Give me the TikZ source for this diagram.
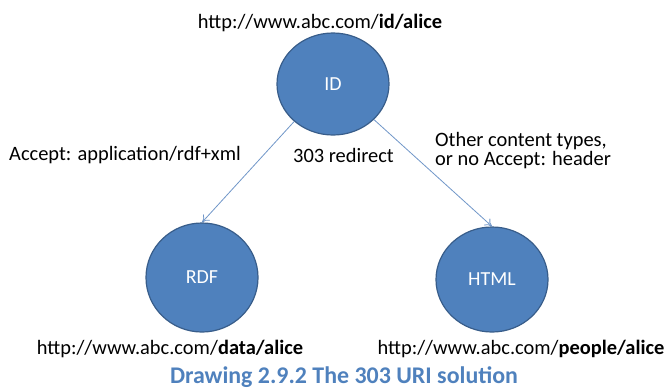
\documentclass[tikz,border=0pt]{standalone}
\usepackage{fontspec}
\setmainfont{Carlito}
\usetikzlibrary{arrows.meta,shapes.geometric}
\definecolor{nodefill}{HTML}{4F81BD}
\definecolor{nodeline}{HTML}{385D8A}
\definecolor{arrowcol}{HTML}{7096C8}
\definecolor{captioncol}{HTML}{4F81BD}
\begin{document}
\begin{tikzpicture}[x=1bp,y=-1bp,
  resource/.style={ellipse,draw=nodeline,line width=1.2bp,fill=nodefill,
    text=white,minimum width=112bp,minimum height=102bp,inner sep=0pt,
    font=\fontsize{20}{24}\selectfont},
  label/.style={inner sep=0pt,font=\fontsize{20.5}{19}\selectfont,text=black},
  link/.style={draw=arrowcol,line width=0.8bp,-{To[length=7bp,width=9bp]}}]
\useasboundingbox (0,0) rectangle (668,390);

% the three resources
\node[resource] (id) at (333,84) {ID};
\node[resource,minimum height=109bp] (rdf) at (202,277.5) {RDF};
\node[resource,minimum height=105bp] (html) at (492,279.5) {HTML};

% their URIs
\node[label] (uid) at (320,23) {http://www.abc.com/\textbf{id/alice}};
\node[label] (urdf) at (170,349) {http://www.abc.com/\textbf{data/alice}};
\node[label] (uhtml) at (521,349) {http://www.abc.com/\textbf{people/alice}};

% content negotiation
\draw[link] (id.224) -- (rdf.north);
\draw[link] (id.319) -- (html.north);
\node[label,anchor=west] (accept) at (9,155) {Accept: application/rdf+xml};
\node[label,anchor=west] (redirect) at (293,155) {303 redirect};
\node[label,anchor=west,align=left] (other) at (435,151)
  {Other content types,\\or no Accept: header};

% caption
\node[inner sep=0pt,text=captioncol,font=\fontsize{24}{28}\selectfont\bfseries]
  (caption) at (344,377) {Drawing 2.9.2 The 303 URI solution};
\end{tikzpicture}
\end{document}
